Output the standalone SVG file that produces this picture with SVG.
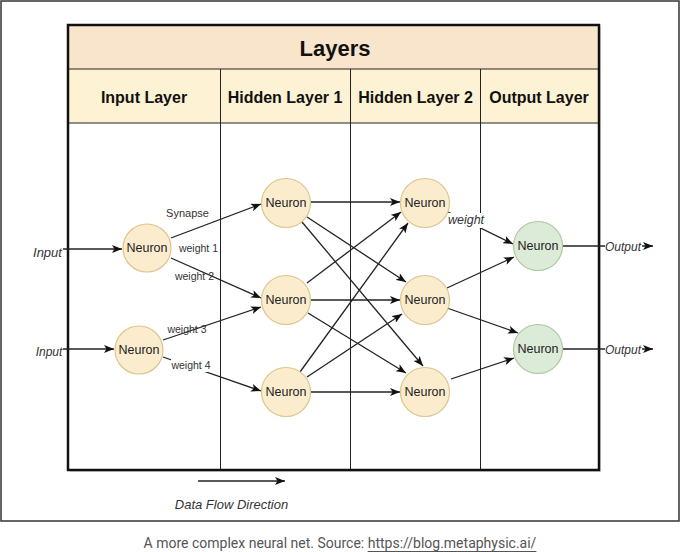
<svg xmlns="http://www.w3.org/2000/svg" width="680" height="552" viewBox="0 0 680 552">
<style>
.neu{fill:#fbecce;stroke:#dcc58e;stroke-width:1.2}
.out{fill:#dcebd8;stroke:#adc9a0;stroke-width:1.2}
.nt{font-family:"Liberation Sans",Arial,sans-serif;font-size:12.5px;fill:#222;text-anchor:middle;dominant-baseline:central}
.hd{font-family:"Liberation Sans",Arial,sans-serif;font-weight:bold;font-size:16px;fill:#111;text-anchor:middle;dominant-baseline:central}
.lb{font-family:"Liberation Sans",Arial,sans-serif;font-size:10.5px;fill:#333;text-anchor:middle;dominant-baseline:central}
.it{font-family:"Liberation Sans",Arial,sans-serif;font-style:italic;fill:#333;text-anchor:middle;dominant-baseline:central}
.e{stroke:#222;stroke-width:1.3;fill:none;marker-end:url(#ah)}
.ln{stroke:#222;stroke-width:1}
</style>
<defs>
<marker id="ah" markerUnits="userSpaceOnUse" markerWidth="10" markerHeight="8" refX="10" refY="4" orient="auto">
<path d="M0,0 L10,4 L0,8 L2.5,4 z" fill="#111"/>
</marker>
</defs>
<rect x="0" y="0" width="680" height="552" fill="#fff"/>
<rect x="1" y="1" width="678" height="520" fill="#fff" stroke="#333" stroke-width="1.5"/>

<g id="table">
<rect x="70" y="27" width="531" height="445" fill="#bbb" opacity="0.5"/>
<rect x="68" y="25" width="531" height="445" fill="#fff"/>
<rect x="68" y="25" width="531" height="44" fill="#f8e5cc"/>
<rect x="68" y="69" width="531" height="54" fill="#fdf2d3"/>
<line class="ln" x1="68" y1="69" x2="599" y2="69" stroke-width="1.5"/>
<line class="ln" x1="68" y1="123" x2="599" y2="123" stroke-width="1.5"/>
<line class="ln" x1="220.5" y1="69" x2="220.5" y2="470"/>
<line class="ln" x1="350.5" y1="69" x2="350.5" y2="470"/>
<line class="ln" x1="480.5" y1="69" x2="480.5" y2="470"/>
<rect x="68" y="25" width="531" height="445" fill="none" stroke="#111" stroke-width="2.5"/>
<text class="hd" x="335" y="48" style="font-size:22px">Layers</text>
<text class="hd" x="144" y="97">Input Layer</text>
<text class="hd" x="285" y="97">Hidden Layer 1</text>
<text class="hd" x="415.5" y="97">Hidden Layer 2</text>
<text class="hd" x="539" y="97">Output Layer</text>
</g>

<g id="connectors">
<line class="e" x1="63" y1="249" x2="122" y2="249"/>
<line class="e" x1="63" y1="349" x2="114" y2="349"/>
<line class="e" x1="171" y1="238" x2="261" y2="204"/>
<line class="e" x1="171" y1="258" x2="261" y2="298"/>
<line class="e" x1="163" y1="340" x2="261" y2="307"/>
<line class="e" x1="163" y1="357" x2="261" y2="391"/>
<line class="e" x1="311" y1="202" x2="400" y2="202"/>
<line class="e" x1="307" y1="217" x2="406" y2="282"/>
<line class="e" x1="302" y1="222" x2="423" y2="366"/>
<line class="e" x1="307" y1="283" x2="401" y2="212"/>
<line class="e" x1="311" y1="300" x2="400" y2="300"/>
<line class="e" x1="308" y1="313" x2="406" y2="373"/>
<line class="e" x1="300" y1="372" x2="408" y2="223"/>
<line class="e" x1="307" y1="377" x2="402" y2="314"/>
<line class="e" x1="311" y1="392" x2="400" y2="392"/>
<line class="e" x1="448" y1="212" x2="513" y2="244"/>
<line class="e" x1="447" y1="288" x2="514" y2="257"/>
<line class="e" x1="447" y1="308" x2="518" y2="333"/>
<line class="e" x1="451" y1="379" x2="514" y2="358"/>
<line class="e" x1="563" y1="246" x2="653" y2="246"/>
<line class="e" x1="563" y1="349" x2="653" y2="349"/>
<line class="e" x1="198" y1="481" x2="285" y2="481"/>
<rect x="446" y="213" width="39" height="15" fill="#fff"/>
<rect x="605" y="239" width="37" height="14" fill="#fff"/>
<rect x="605" y="342" width="37" height="14" fill="#fff"/>
<rect x="171" y="359" width="41" height="13" fill="#fff"/>
<text class="it" x="47.5" y="252" style="font-size:13px">Input</text>
<text class="it" x="49" y="352" style="font-size:12px">Input</text>
<text class="lb" x="187.5" y="213" style="font-size:11px">Synapse</text>
<text class="lb" x="198.5" y="248">weight 1</text>
<text class="lb" x="194.5" y="276">weight 2</text>
<text class="lb" x="187" y="329">weight 3</text>
<text class="lb" x="191" y="365">weight 4</text>
<text class="it" x="466" y="220" style="font-size:12.5px">weight</text>
<text class="it" x="623" y="247" style="font-size:12px">Output</text>
<text class="it" x="623" y="350" style="font-size:12px">Output</text>
<text class="it" x="231.5" y="504" style="font-size:13px">Data Flow Direction</text>
</g>

<g id="n-in1"><circle class="neu" cx="147" cy="248" r="24"/><text class="nt" x="147" y="248">Neuron</text></g>
<g id="n-in2"><circle class="neu" cx="139" cy="350" r="24"/><text class="nt" x="139" y="350">Neuron</text></g>
<g id="n-h1a"><circle class="neu" cx="286" cy="203" r="24.5"/><text class="nt" x="286" y="203">Neuron</text></g>
<g id="n-h1b"><circle class="neu" cx="286" cy="300" r="24.5"/><text class="nt" x="286" y="300">Neuron</text></g>
<g id="n-h1c"><circle class="neu" cx="286" cy="392" r="24.5"/><text class="nt" x="286" y="392">Neuron</text></g>
<g id="n-h2a"><circle class="neu" cx="425" cy="203" r="24.5"/><text class="nt" x="425" y="203">Neuron</text></g>
<g id="n-h2b"><circle class="neu" cx="425" cy="300" r="24.5"/><text class="nt" x="425" y="300">Neuron</text></g>
<g id="n-h2c"><circle class="neu" cx="425" cy="392" r="24.5"/><text class="nt" x="425" y="392">Neuron</text></g>
<g id="n-o1"><circle class="out" cx="538" cy="246" r="24.5"/><text class="nt" x="538" y="246">Neuron</text></g>
<g id="n-o2"><circle class="out" cx="538" cy="349" r="24.5"/><text class="nt" x="538" y="349">Neuron</text></g>

<text x="340" y="543" font-family="Roboto,'Liberation Sans',sans-serif" font-size="14" fill="#555" text-anchor="middle" dominant-baseline="central">A more complex neural net. Source: <tspan text-decoration="underline">https://blog.metaphysic.ai/</tspan></text>
</svg>
